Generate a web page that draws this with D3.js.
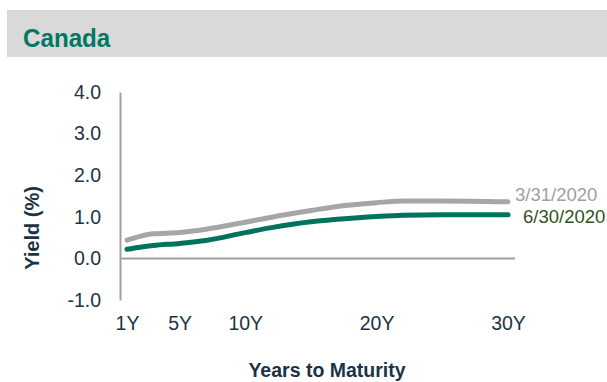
<!DOCTYPE html>
<html>
<head>
<meta charset="utf-8">
<script src="https://cdn.jsdelivr.net/npm/d3@7"></script>
<style>
  html, body { margin: 0; padding: 0; background: #fff; }
  svg { display: block; font-family: "Liberation Sans", Arial, sans-serif; }
</style>
</head>
<body>
<svg id="chart" width="607" height="382"></svg>
<script>
// Canada government bond yield curve, two snapshot dates
const maturities = [1, 2, 3, 5, 7, 10, 12, 15, 17, 20, 22, 25, 30];
const yieldsMar = [0.44, 0.53, 0.59, 0.62, 0.70, 0.87, 0.99, 1.15, 1.25, 1.34, 1.38, 1.38, 1.36];
const yieldsJun = [0.22, 0.27, 0.31, 0.36, 0.43, 0.62, 0.74, 0.88, 0.94, 1.01, 1.04, 1.05, 1.05];
const seriesNames = ["3/31/2020", "6/30/2020"];
const xTickValues = [1, 5, 10, 20, 30];
const xTickLabels = ["1Y", "5Y", "10Y", "20Y", "30Y"];
const yTickValues = [-1, 0, 1, 2, 3, 4];

const svg = d3.select("#chart");
const textColor = "#1b3445";
const fmt = d3.format(".1f");

// header band
svg.append("rect").attr("x", 7).attr("y", 10).attr("width", 600).attr("height", 47).attr("fill", "#d9d9d9");
svg.append("text").attr("transform", "translate(23,47) scale(0.93,1)").text("Canada")
  .attr("font-size", 26).attr("font-weight", "bold").attr("fill", "#007866");

const x = d3.scaleLinear().domain([1, 30]).range([127, 508]);
const y = d3.scaleLinear().domain([-1, 4]).range([300, 92]);

// y axis: vertical rule plus labels
const yAxis = d3.axisLeft(y).tickValues(yTickValues)
  .tickFormat(d => fmt(d).replace("\u2212", "-")).tickSize(0).tickPadding(19);
const gy = svg.append("g").attr("transform", "translate(120,0)").call(yAxis);
gy.select(".domain").attr("stroke", "#a0a0a0").attr("stroke-width", 2);
gy.selectAll("text").attr("font-size", 19.5).attr("fill", textColor).attr("font-family", "Liberation Sans, Arial, sans-serif");

// zero line
svg.append("line").attr("x1", 120).attr("x2", 515).attr("y1", y(0)).attr("y2", y(0))
  .attr("stroke", "#a0a0a0").attr("stroke-width", 2);

// x axis labels (no rule)
const xAxis = d3.axisBottom(x).tickValues(xTickValues)
  .tickFormat((d, i) => xTickLabels[i]).tickSize(0).tickPadding(0);
const gx = svg.append("g").attr("transform", "translate(0,316)").call(xAxis);
gx.select(".domain").remove();
gx.selectAll("text").attr("font-size", 19.5).attr("fill", textColor).attr("font-family", "Liberation Sans, Arial, sans-serif");

// axis titles
svg.append("text").attr("x", 327).attr("y", 377).attr("text-anchor", "middle")
  .attr("font-size", 19.5).attr("font-weight", "bold").attr("fill", textColor).text("Years to Maturity");
svg.append("text").attr("transform", "translate(39,228) rotate(-90)").attr("text-anchor", "middle")
  .attr("font-size", 20).attr("font-weight", "bold").attr("fill", textColor).text("Yield (%)");

// curves
const line = d3.line().x(d => x(d[0])).y(d => y(d[1])).curve(d3.curveMonotoneX);
const series = [
  { name: seriesNames[0], values: yieldsMar, color: "#a6a6a6", labelColor: "#a0a0a0", dx: 7, dy: -6 },
  { name: seriesNames[1], values: yieldsJun, color: "#00735f", labelColor: "#2f5419", dx: 15, dy: 3 }
];
series.forEach(s => {
  const pts = maturities.map((m, i) => [m, s.values[i]]);
  svg.append("path").datum(pts).attr("d", line).attr("fill", "none")
    .attr("stroke", s.color).attr("stroke-width", 5).attr("stroke-linecap", "round").attr("stroke-linejoin", "round");
  // end label
  svg.append("text").attr("x", x(30) + s.dx).attr("y", y(s.values[s.values.length - 1]) + s.dy)
    .attr("dominant-baseline", "middle").attr("font-size", 18.5).attr("fill", s.labelColor).text(s.name);
});
</script>
</body>
</html>
